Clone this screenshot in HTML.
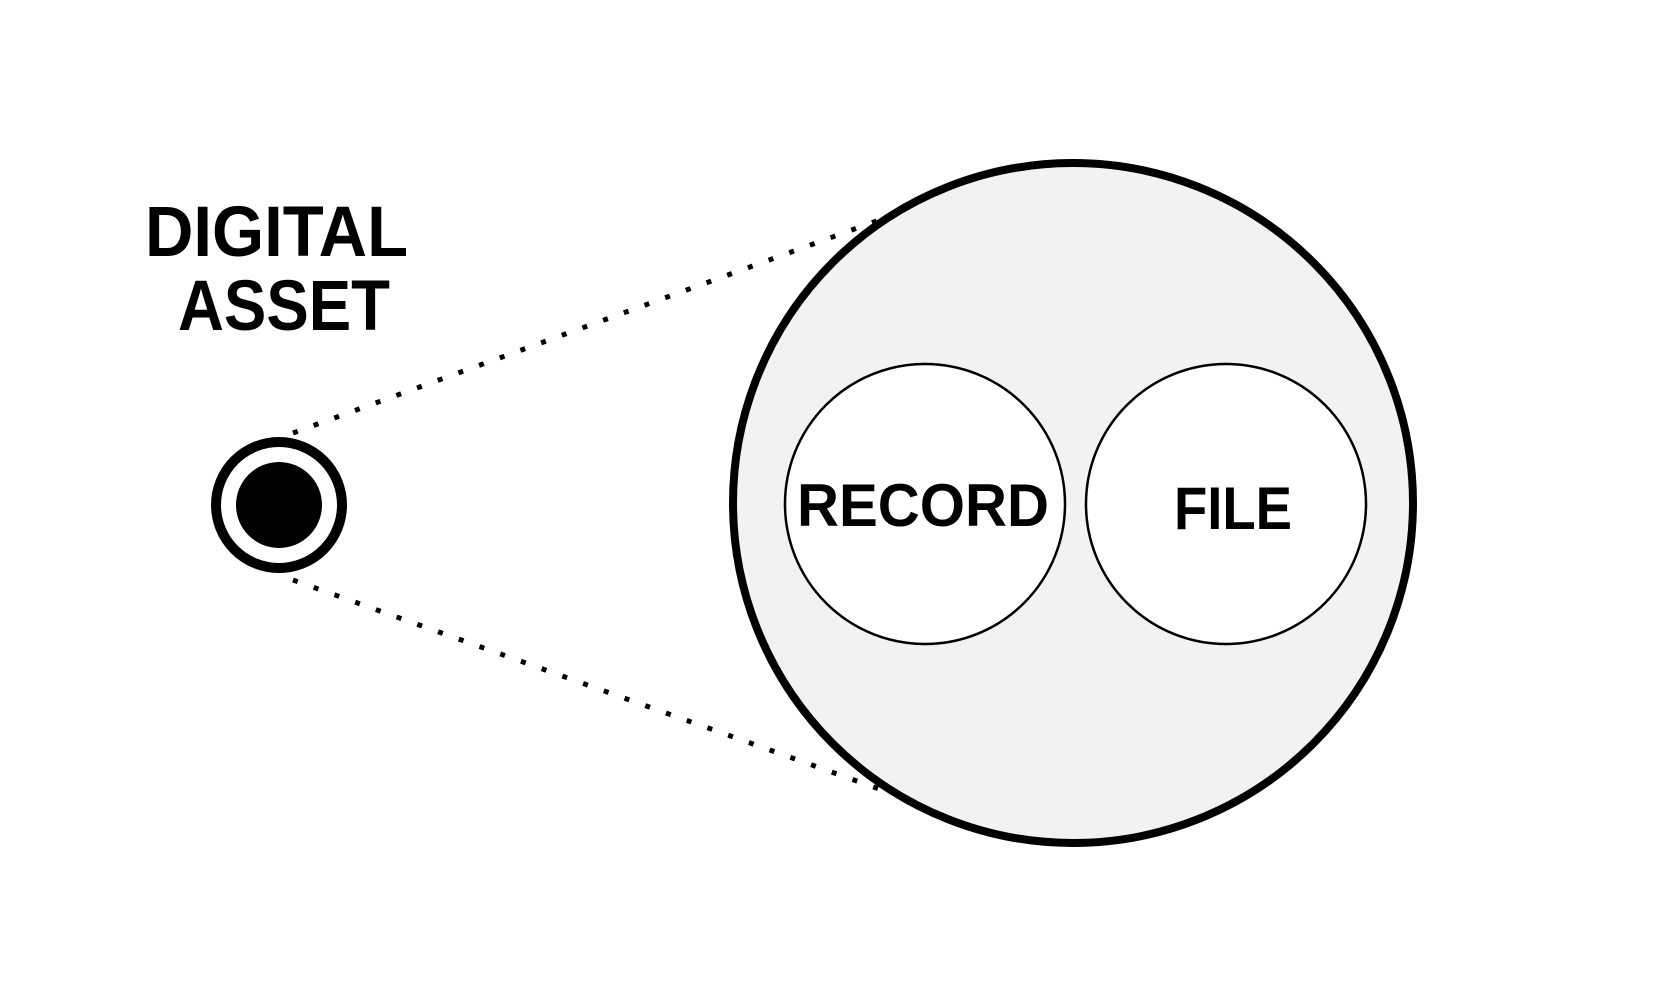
<!DOCTYPE html>
<html><head><meta charset="utf-8"><style>html,body{margin:0;padding:0;background:#fff}svg{display:block}</style></head>
<body>
<svg width="1665" height="985" viewBox="0 0 1665 985" xmlns="http://www.w3.org/2000/svg">
<rect width="1665" height="985" fill="#fff"/>
<line x1="293" y1="433" x2="882" y2="219" stroke="#000" stroke-width="5" stroke-dasharray="5 17"/>
<line x1="293" y1="580" x2="882" y2="790" stroke="#000" stroke-width="5" stroke-dasharray="5 17"/>
<circle cx="1073" cy="503" r="340" fill="#f2f2f2" stroke="#000" stroke-width="8"/>
<circle cx="925" cy="504" r="140" fill="#fff" stroke="#000" stroke-width="2.5"/>
<circle cx="1226" cy="504" r="140" fill="#fff" stroke="#000" stroke-width="2.5"/>
<circle cx="279" cy="505" r="63" fill="#fff" stroke="#000" stroke-width="10"/>
<circle cx="279" cy="505" r="43" fill="#000"/>
<g font-family="Liberation Sans, sans-serif" font-weight="bold" fill="#000">
<text x="145" y="256" font-size="71" textLength="263" lengthAdjust="spacingAndGlyphs">DIGITAL</text>
<text x="178" y="330" font-size="71" textLength="212" lengthAdjust="spacingAndGlyphs">ASSET</text>
<text x="797" y="526" font-size="60" textLength="252" lengthAdjust="spacingAndGlyphs">RECORD</text>
<text x="1174" y="529" font-size="60" textLength="118" lengthAdjust="spacingAndGlyphs">FILE</text>
</g>
</svg>
</body></html>
